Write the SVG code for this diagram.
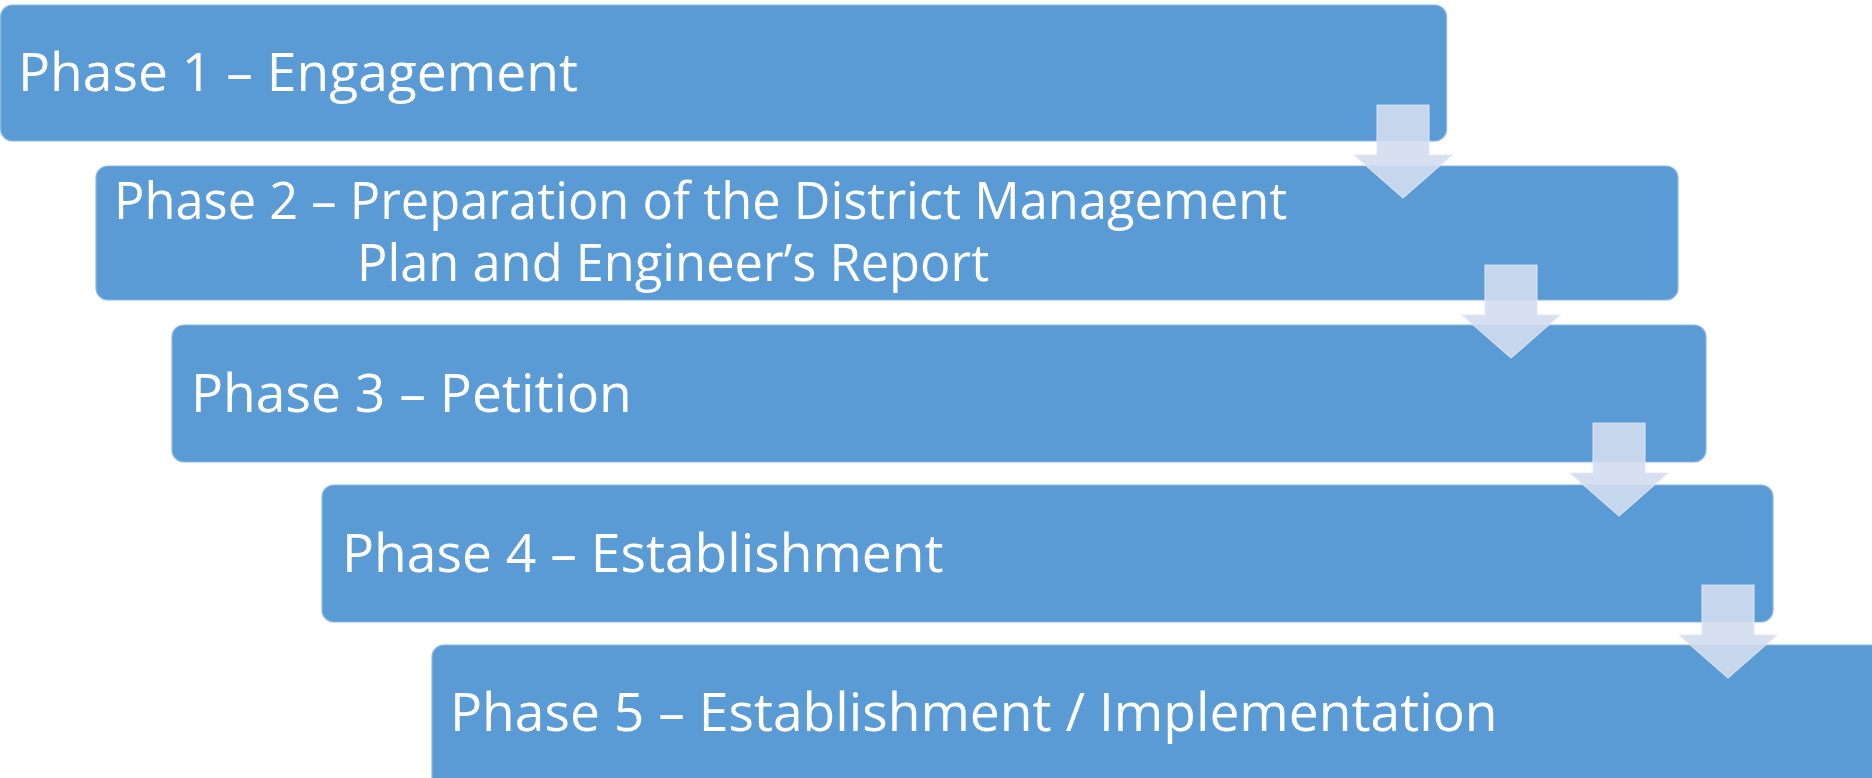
<svg xmlns="http://www.w3.org/2000/svg" width="1872" height="778" viewBox="0 0 1872 778">
<style>
.box{fill:#5b9bd5;stroke:#8db8e3;stroke-width:1.2}
.lbl{font-family:"Open Sans","Noto Sans","Liberation Sans",sans-serif;font-size:53.4px;fill:#ffffff}
.lbl2{font-family:"Open Sans","Noto Sans","Liberation Sans",sans-serif;font-size:50.6px;fill:#ffffff}
.arr{fill:#d2ddee;fill-opacity:0.9;stroke:#e2e9f4;stroke-width:1.2;stroke-opacity:0.8}
</style>
<rect width="1872" height="778" fill="#ffffff"/>
<g id="phase1">
<rect class="box" x="0.6" y="5" width="1446" height="136" rx="12"/>
<text class="lbl" x="18" y="91">Phase 1 – Engagement</text>
</g>
<g id="phase2">
<rect class="box" x="96" y="166" width="1582" height="134" rx="12"/>
<text class="lbl2" x="114" y="219">Phase 2 – Preparation of the District Management</text>
<text class="lbl2" x="357" y="281">Plan and Engineer’s Report</text>
</g>
<g id="phase3">
<rect class="box" x="172" y="325" width="1534" height="137" rx="12"/>
<text class="lbl" x="191" y="412">Phase 3 – Petition</text>
</g>
<g id="phase4">
<rect class="box" x="322" y="485" width="1451" height="137" rx="12"/>
<text class="lbl" x="342" y="572">Phase 4 – Establishment</text>
</g>
<g id="phase5">
<rect class="box" x="432" y="645" width="1460" height="150" rx="12"/>
<text class="lbl" x="450" y="731">Phase 5 – Establishment / Implementation</text>
</g>
<g id="connectors">
<polygon class="arr" points="1377,105 1429,105 1429,155 1452,155 1403,198 1354,155 1377,155"/>
<polygon class="arr" points="1485,265 1537,265 1537,315 1560,315 1511,358 1462,315 1485,315"/>
<polygon class="arr" points="1593,423 1645,423 1645,473 1668,473 1619,516 1570,473 1593,473"/>
<polygon class="arr" points="1702,585 1754,585 1754,635 1777,635 1728,678 1679,635 1702,635"/>
</g>
</svg>
